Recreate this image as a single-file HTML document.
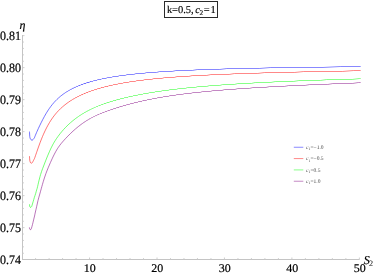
<!DOCTYPE html><html><head><meta charset="utf-8"><style>
html,body{margin:0;padding:0;background:#fff;}
body{width:374px;height:275px;overflow:hidden;}
svg{position:absolute;left:0;top:0;will-change:transform;display:block;}
</style></head><body>
<svg width="374" height="275" viewBox="0 0 374 275" font-family="'Liberation Serif', serif" text-rendering="geometricPrecision">
<g stroke="#c4c4c4" stroke-width="1.0" fill="none">
<path d="M22.00 259.50 H359.60"/>
<path d="M22.50 259.50 V35.00"/>
</g>
<path d="M35.59 259.50 v-1.40 M49.08 259.50 v-1.40 M62.57 259.50 v-1.40 M76.06 259.50 v-1.40 M89.55 259.50 v-2.00 M103.04 259.50 v-1.40 M116.53 259.50 v-1.40 M130.02 259.50 v-1.40 M143.51 259.50 v-1.40 M157.00 259.50 v-2.00 M170.49 259.50 v-1.40 M183.98 259.50 v-1.40 M197.47 259.50 v-1.40 M210.96 259.50 v-1.40 M224.45 259.50 v-2.00 M237.94 259.50 v-1.40 M251.43 259.50 v-1.40 M264.92 259.50 v-1.40 M278.41 259.50 v-1.40 M291.90 259.50 v-2.00 M305.39 259.50 v-1.40 M318.88 259.50 v-1.40 M332.37 259.50 v-1.40 M345.86 259.50 v-1.40 M359.35 259.50 v-2.00 M22.50 253.25 h1.40 M22.50 246.85 h1.40 M22.50 240.45 h1.40 M22.50 234.05 h1.40 M22.50 227.65 h2.00 M22.50 221.25 h1.40 M22.50 214.85 h1.40 M22.50 208.45 h1.40 M22.50 202.05 h1.40 M22.50 195.65 h2.00 M22.50 189.25 h1.40 M22.50 182.85 h1.40 M22.50 176.45 h1.40 M22.50 170.05 h1.40 M22.50 163.65 h2.00 M22.50 157.25 h1.40 M22.50 150.85 h1.40 M22.50 144.45 h1.40 M22.50 138.05 h1.40 M22.50 131.65 h2.00 M22.50 125.25 h1.40 M22.50 118.85 h1.40 M22.50 112.45 h1.40 M22.50 106.05 h1.40 M22.50 99.65 h2.00 M22.50 93.25 h1.40 M22.50 86.85 h1.40 M22.50 80.45 h1.40 M22.50 74.05 h1.40 M22.50 67.65 h2.00 M22.50 61.25 h1.40 M22.50 54.85 h1.40 M22.50 48.45 h1.40 M22.50 42.05 h1.40 M22.50 35.65 h2.00" stroke="#c8c8c8" stroke-width="0.9" fill="none"/>
<path d="M29.50 131.60 C29.52 132.00 29.56 133.18 29.60 134.00 C29.64 134.82 29.62 135.68 29.75 136.50 C29.88 137.32 30.06 138.28 30.40 138.90 C30.74 139.52 31.37 140.08 31.80 140.20 C32.23 140.32 32.57 140.01 33.00 139.60 C33.43 139.19 34.08 138.28 34.40 137.76 C34.72 137.25 34.73 136.92 34.90 136.51 C35.07 136.10 35.23 135.69 35.40 135.29 C35.57 134.89 35.73 134.49 35.90 134.09 C36.07 133.70 36.23 133.30 36.40 132.92 C36.57 132.53 36.82 131.96 36.90 131.76 L38.40 128.42 39.90 125.24 41.40 122.19 42.90 119.27 44.40 116.47 45.90 113.84 46.90 112.18 48.40 109.84 49.40 108.38 50.90 106.31 52.40 104.40 53.90 102.63 55.40 100.99 56.90 99.48 58.40 98.08 60.40 96.35 61.90 95.16 63.90 93.66 64.40 93.38 65.40 92.61 65.90 92.42 66.90 91.62 67.40 91.50 68.40 90.72 68.90 90.50 69.40 90.33 70.25 89.61 70.50 89.50 71.00 89.50 71.25 89.36 72.25 88.50 73.00 88.50 73.25 88.37 74.00 87.68 74.25 87.50 75.25 87.50 75.50 87.29 76.25 86.56 76.50 86.50 77.50 86.50 77.75 86.38 78.50 85.61 78.75 85.50 80.00 85.50 80.25 85.42 81.00 84.60 81.25 84.50 82.75 84.50 83.00 84.44 83.75 83.54 84.00 83.50 85.75 83.50 86.00 83.47 86.75 82.50 89.25 82.50 90.00 81.50" fill="none" stroke="#0000ff" stroke-width="0.55" stroke-linejoin="round"/>
<path d="M90.00 81.50 L92.75 81.50 L93.00 81.28 L93.50 80.62 L93.75 80.50 L96.75 80.50 L97.50 79.63 L97.75 79.50 L101.00 79.50 L101.25 79.40 L102.00 78.60 L102.25 78.50 L106.00 78.50 L106.25 78.34 L107.00 77.63 L107.25 77.50 L111.50 77.50 L111.75 77.41 L112.75 76.58 L113.00 76.50 L118.00 76.50 L119.25 75.59 L119.50 75.50 L125.25 75.50 L125.50 75.40 L126.75 74.62 L127.00 74.50 L133.75 74.50 L134.00 74.47 L135.75 73.55 L136.00 73.50 L144.00 73.50 L144.25 73.47 L146.50 72.50 L156.50 72.50 L156.75 72.47 L159.50 71.50 L172.25 71.50 L175.75 70.53 L176.00 70.50 L192.50 70.49 L197.25 69.50 L219.75 69.50 L220.00 69.49 L226.75 68.50 L259.75 68.50 L270.25 67.50 L323.00 67.50 L340.25 66.50 L360.70 66.50" fill="none" stroke="#0000ff" stroke-width="0.47" stroke-linejoin="round"/>
<path d="M29.50 156.20 C29.52 156.53 29.56 157.55 29.60 158.20 C29.64 158.85 29.63 159.42 29.75 160.10 C29.87 160.78 30.03 161.77 30.30 162.30 C30.57 162.83 31.00 163.28 31.35 163.30 C31.70 163.32 32.06 162.85 32.40 162.40 C32.74 161.95 33.05 161.26 33.40 160.60 C33.75 159.94 34.23 159.02 34.50 158.43 C34.77 157.84 34.83 157.51 35.00 157.04 C35.17 156.57 35.33 156.09 35.50 155.61 C35.67 155.13 35.83 154.65 36.00 154.17 C36.17 153.68 36.33 153.20 36.50 152.71 C36.67 152.23 36.92 151.50 37.00 151.26 L38.50 146.96 40.00 142.84 41.50 138.96 42.50 136.52 43.50 134.20 45.00 130.93 46.50 127.91 48.00 125.11 49.50 122.52 51.00 120.13 52.50 117.93 54.00 115.90 55.50 114.02 57.00 112.28 58.50 110.66 60.50 108.67 62.50 106.85 65.00 104.77 68.00 102.50 68.50 102.19 69.00 101.81 70.00 101.19 70.75 100.60 71.00 100.50 71.25 100.45 72.25 99.65 72.50 99.50 72.75 99.50 73.00 99.39 74.00 98.57 74.25 98.50 74.50 98.50 74.75 98.41 75.75 97.56 76.00 97.50 76.50 97.50 77.50 96.65 77.75 96.50 78.50 96.50 79.50 95.61 79.75 95.50 80.50 95.50 80.75 95.40 81.50 94.70 81.75 94.50 82.75 94.50 83.00 94.41 83.75 93.67 84.00 93.50 85.25 93.50 85.50 93.32 86.25 92.53 86.50 92.50 87.75 92.50 88.00 92.40 88.75 91.56 89.00 91.50" fill="none" stroke="#ff0000" stroke-width="0.55" stroke-linejoin="round"/>
<path d="M89.00 91.50 L90.50 91.50 L90.75 91.41 L91.50 90.51 L93.50 90.50 L93.75 90.37 L94.25 89.72 L94.50 89.50 L96.75 89.50 L97.00 89.30 L97.50 88.56 L97.75 88.50 L100.25 88.50 L101.00 87.50 L103.75 87.50 L104.00 87.46 L104.75 86.50 L108.00 86.49 L108.75 85.61 L109.00 85.50 L112.25 85.50 L112.50 85.39 L113.25 84.58 L113.50 84.50 L117.25 84.49 L118.25 83.52 L122.50 83.50 L122.75 83.37 L123.75 82.50 L128.50 82.50 L128.75 82.38 L129.75 81.60 L130.00 81.50 L135.25 81.50 L135.50 81.38 L136.75 80.52 L137.00 80.50 L143.00 80.49 L144.50 79.59 L144.75 79.50 L151.75 79.50 L153.75 78.50 L162.00 78.50 L162.25 78.43 L164.25 77.54 L164.50 77.50 L174.25 77.50 L177.00 76.50 L188.75 76.50 L189.00 76.46 L192.00 75.55 L192.25 75.50 L206.75 75.50 L210.75 74.53 L211.00 74.50 L229.25 74.49 L234.25 73.52 L234.50 73.50 L257.75 73.50 L264.50 72.50 L294.75 72.50 L303.50 71.50 L342.50 71.50 L353.50 70.51 L360.70 70.50" fill="none" stroke="#ff0000" stroke-width="0.47" stroke-linejoin="round"/>
<path d="M29.50 204.30 C29.52 204.58 29.57 205.55 29.65 206.00 C29.73 206.45 29.82 206.77 30.00 207.00 C30.18 207.23 30.47 207.42 30.70 207.40 C30.93 207.38 31.20 207.17 31.40 206.90 C31.60 206.63 31.62 206.65 31.90 205.80 C32.18 204.95 32.68 203.22 33.10 201.80 C33.52 200.38 33.98 198.65 34.40 197.30 C34.82 195.95 35.23 194.91 35.60 193.70 C35.97 192.49 36.35 190.90 36.60 190.04 C36.85 189.18 36.93 189.15 37.10 188.56 C37.27 187.98 37.43 187.24 37.60 186.54 C37.77 185.83 37.93 185.06 38.10 184.34 C38.27 183.61 38.43 182.88 38.60 182.17 C38.77 181.46 39.02 180.43 39.10 180.09 L40.10 176.24 40.60 174.52 41.60 171.40 42.60 168.61 45.60 160.87 47.60 155.89 49.60 151.22 51.10 147.99 52.60 145.03 53.60 143.21 55.10 140.71 56.60 138.43 58.10 136.31 60.10 133.67 61.60 131.82 63.60 129.52 65.60 127.37 68.10 124.88 70.50 122.69 73.00 120.58 75.25 118.81 77.00 117.50 77.25 117.36 78.25 116.60 78.50 116.50 78.75 116.33 79.75 115.55 80.00 115.50 80.25 115.35 81.25 114.56 81.75 114.43 82.75 113.62 83.00 113.50 83.25 113.50 83.50 113.37 84.50 112.54 85.00 112.50 85.25 112.37 86.25 111.52 86.75 111.50 87.00 111.44 88.00 110.58 88.25 110.50 88.75 110.50 89.00 110.39 90.00 109.50" fill="none" stroke="#00ff00" stroke-width="0.55" stroke-linejoin="round"/>
<path d="M90.00 109.50 L90.75 109.50 L91.00 109.43 L92.00 108.50 L93.00 108.50 L93.25 108.34 L94.00 107.62 L94.25 107.50 L95.25 107.50 L95.50 107.37 L96.25 106.62 L96.50 106.50 L97.75 106.50 L98.00 106.29 L98.75 105.50 L100.25 105.50 L100.50 105.37 L101.25 104.54 L101.50 104.50 L103.00 104.50 L103.25 104.37 L104.00 103.50 L106.00 103.50 L106.25 103.27 L106.75 102.63 L107.00 102.50 L109.00 102.50 L109.25 102.43 L109.75 101.73 L110.00 101.50 L112.50 101.50 L113.00 100.79 L113.25 100.50 L116.00 100.50 L116.75 99.50 L119.50 99.50 L119.75 99.47 L120.50 98.50 L123.50 98.50 L123.75 98.42 L124.50 97.51 L127.75 97.50 L128.00 97.39 L128.75 96.54 L129.00 96.50 L132.25 96.50 L132.50 96.41 L133.25 95.62 L133.50 95.50 L137.25 95.50 L138.25 94.52 L142.25 94.50 L142.50 94.48 L143.50 93.56 L143.75 93.50 L148.00 93.50 L148.25 93.38 L149.25 92.54 L149.50 92.50 L154.25 92.49 L155.50 91.52 L160.75 91.50 L161.00 91.45 L162.25 90.56 L162.50 90.50 L168.25 90.50 L169.75 89.56 L170.00 89.50 L176.25 89.50 L176.50 89.45 L178.00 88.59 L178.25 88.50 L185.50 88.48 L187.25 87.58 L187.50 87.50 L195.50 87.50 L195.75 87.42 L197.75 86.50 L206.75 86.50 L207.00 86.48 L209.25 85.56 L209.50 85.50 L219.75 85.50 L220.00 85.44 L222.50 84.54 L222.75 84.50 L234.50 84.50 L237.75 83.50 L251.25 83.50 L251.50 83.47 L255.00 82.52 L255.25 82.50 L271.00 82.49 L275.25 81.50 L293.75 81.50 L298.75 80.52 L299.00 80.50 L320.50 80.50 L320.75 80.48 L326.50 79.51 L326.75 79.50 L352.25 79.50 L359.25 78.51 L360.70 78.50" fill="none" stroke="#00ff00" stroke-width="0.47" stroke-linejoin="round"/>
<path d="M29.40 227.40 C29.43 227.63 29.50 228.45 29.60 228.80 C29.70 229.15 29.85 229.36 30.00 229.50 C30.15 229.64 30.33 229.68 30.50 229.65 C30.67 229.62 30.83 229.56 31.00 229.30 C31.17 229.04 31.25 228.90 31.50 228.10 C31.75 227.30 32.15 225.87 32.50 224.50 C32.85 223.13 33.26 221.32 33.60 219.90 C33.94 218.48 34.25 217.32 34.55 216.00 C34.85 214.68 35.04 213.60 35.40 212.00 C35.76 210.40 36.27 208.32 36.70 206.40 C37.13 204.48 37.48 202.57 38.00 200.50 C38.52 198.43 39.32 195.75 39.80 194.00 C40.28 192.25 40.63 190.99 40.90 190.02 C41.17 189.06 41.23 188.80 41.40 188.20 C41.57 187.59 41.73 186.99 41.90 186.39 C42.07 185.79 42.23 185.20 42.40 184.61 C42.57 184.03 42.73 183.45 42.90 182.88 C43.07 182.31 43.32 181.47 43.40 181.19 L44.40 177.98 45.90 173.62 46.90 170.97 48.40 167.25 50.40 162.60 52.40 158.18 53.40 156.09 54.40 154.10 55.90 151.31 57.40 148.78 58.40 147.25 59.90 145.16 61.40 143.26 63.40 140.93 65.40 138.73 67.90 136.10 70.25 133.74 73.00 131.14 75.50 128.92 78.25 126.63 81.00 124.51 82.25 123.58 82.50 123.46 83.75 122.50 84.00 122.43 85.00 121.66 85.25 121.50 85.50 121.47 86.75 120.50 87.00 120.50 87.25 120.36 88.25 119.55 88.50 119.50 88.75 119.50 90.00 118.50" fill="none" stroke="#800080" stroke-width="0.55" stroke-linejoin="round"/>
<path d="M90.00 118.50 L90.50 118.50 L90.75 118.37 L91.75 117.50 L92.50 117.50 L93.50 116.63 L93.75 116.50 L94.50 116.50 L94.75 116.34 L95.50 115.65 L95.75 115.50 L96.75 115.50 L97.75 114.56 L98.00 114.50 L99.00 114.50 L99.25 114.37 L100.00 113.61 L100.25 113.50 L101.50 113.50 L101.75 113.34 L102.50 112.54 L102.75 112.50 L104.00 112.50 L104.25 112.46 L105.00 111.62 L105.25 111.50 L106.75 111.50 L107.00 111.44 L107.75 110.56 L108.00 110.50 L109.75 110.50 L110.00 110.25 L110.50 109.64 L110.75 109.50 L112.75 109.50 L113.50 108.54 L113.75 108.50 L115.75 108.50 L116.00 108.28 L116.50 107.60 L116.75 107.50 L119.00 107.50 L119.25 107.23 L119.75 106.50 L122.25 106.50 L122.50 106.37 L123.00 105.64 L123.25 105.50 L125.75 105.50 L126.00 105.37 L126.50 104.67 L126.75 104.50 L129.50 104.50 L129.75 104.27 L130.25 103.61 L130.50 103.50 L133.25 103.50 L133.50 103.42 L134.25 102.50 L137.50 102.50 L138.25 101.63 L138.50 101.50 L141.75 101.50 L142.00 101.33 L142.75 100.50 L146.25 100.50 L146.50 100.44 L147.25 99.66 L147.50 99.50 L151.25 99.50 L151.50 99.36 L152.25 98.63 L152.50 98.50 L156.50 98.50 L156.75 98.39 L157.75 97.50 L162.25 97.50 L162.50 97.35 L163.50 96.51 L168.50 96.50 L169.75 95.55 L170.00 95.50 L175.25 95.50 L175.50 95.36 L176.75 94.50 L182.75 94.50 L184.25 93.58 L184.50 93.50 L191.00 93.50 L191.25 93.39 L192.75 92.54 L193.00 92.50 L200.25 92.50 L202.25 91.50 L210.50 91.50 L212.75 90.50 L222.00 90.50 L224.50 89.51 L235.00 89.50 L237.75 88.51 L249.50 88.50 L249.75 88.45 L252.75 87.50 L266.00 87.50 L269.50 86.51 L284.50 86.50 L288.50 85.50 L305.00 85.50 L305.25 85.47 L309.50 84.50 L327.75 84.50 L328.00 84.49 L332.75 83.50 L352.75 83.50 L353.00 83.48 L358.00 82.52 L358.25 82.50 L360.70 82.50" fill="none" stroke="#800080" stroke-width="0.47" stroke-linejoin="round"/>
<path d="M293.8 147.25 H303.3" stroke="#0000ff" stroke-width="0.47" fill="none"/>
<path d="M293.8 158.58 H303.3" stroke="#ff0000" stroke-width="0.47" fill="none"/>
<path d="M293.8 169.91 H303.3" stroke="#00ff00" stroke-width="0.47" fill="none"/>
<path d="M293.8 181.24 H303.3" stroke="#800080" stroke-width="0.47" fill="none"/>
<rect x="164.5" y="1.5" width="53" height="16" fill="#fff" stroke="#2a2a2a" stroke-width="1"/>
<text transform="translate(21.00 263.70) scale(1.0 1.07)" font-size="12" text-anchor="end" fill="#000" stroke="#000" stroke-width="0.2">0.74</text>
<text transform="translate(21.00 231.70) scale(1.0 1.07)" font-size="12" text-anchor="end" fill="#000" stroke="#000" stroke-width="0.2">0.75</text>
<text transform="translate(21.00 199.70) scale(1.0 1.07)" font-size="12" text-anchor="end" fill="#000" stroke="#000" stroke-width="0.2">0.76</text>
<text transform="translate(21.00 167.70) scale(1.0 1.07)" font-size="12" text-anchor="end" fill="#000" stroke="#000" stroke-width="0.2">0.77</text>
<text transform="translate(21.00 135.70) scale(1.0 1.07)" font-size="12" text-anchor="end" fill="#000" stroke="#000" stroke-width="0.2">0.78</text>
<text transform="translate(21.00 103.70) scale(1.0 1.07)" font-size="12" text-anchor="end" fill="#000" stroke="#000" stroke-width="0.2">0.79</text>
<text transform="translate(21.00 71.70) scale(1.0 1.07)" font-size="12" text-anchor="end" fill="#000" stroke="#000" stroke-width="0.2">0.80</text>
<text transform="translate(21.00 39.70) scale(1.0 1.07)" font-size="12" text-anchor="end" fill="#000" stroke="#000" stroke-width="0.2">0.81</text>
<text transform="translate(89.85 271.85) scale(1.0 0.98)" font-size="12" text-anchor="middle" fill="#000" stroke="#000" stroke-width="0.2">10</text>
<text transform="translate(157.30 271.85) scale(1.0 0.98)" font-size="12" text-anchor="middle" fill="#000" stroke="#000" stroke-width="0.2">20</text>
<text transform="translate(224.75 271.85) scale(1.0 0.98)" font-size="12" text-anchor="middle" fill="#000" stroke="#000" stroke-width="0.2">30</text>
<text transform="translate(292.20 271.85) scale(1.0 0.98)" font-size="12" text-anchor="middle" fill="#000" stroke="#000" stroke-width="0.2">40</text>
<text transform="translate(359.65 271.85) scale(1.0 0.98)" font-size="12" text-anchor="middle" fill="#000" stroke="#000" stroke-width="0.2">50</text>
<text transform="translate(19.60 29.40) scale(1 1)" font-size="12" text-anchor="start" fill="#000" stroke="#000" stroke-width="0.2" font-style="italic">η</text>
<text transform="translate(363.80 263.90) scale(1 1)" font-size="12" text-anchor="start" fill="#000" stroke="#000" stroke-width="0.15" font-style="italic">S</text>
<text transform="translate(369.00 265.70) scale(1 1)" font-size="8.2" text-anchor="start" fill="#000">2</text>
<text transform="translate(166.90 13.30) scale(1 1)" font-size="10.45" text-anchor="start" fill="#000" stroke="#000" stroke-width="0.15">k=0.5, <tspan font-style="italic" dx="-0.9">c</tspan><tspan font-size="7.31" dx="-0.5" dy="1.99">2</tspan><tspan dx="0.5" dy="-1.99">=</tspan><tspan dx="0.9">1</tspan></text>
<text transform="translate(306.10 149.15) scale(1 1)" font-size="5.5" text-anchor="start" fill="#4a4a4a"><tspan font-style="italic">c</tspan><tspan font-size="3.85" dy="1.21">1</tspan><tspan dy="-1.21">=−1.0</tspan></text>
<text transform="translate(306.10 160.48) scale(1 1)" font-size="5.5" text-anchor="start" fill="#4a4a4a"><tspan font-style="italic">c</tspan><tspan font-size="3.85" dy="1.21">1</tspan><tspan dy="-1.21">=−0.5</tspan></text>
<text transform="translate(306.10 171.81) scale(1 1)" font-size="5.5" text-anchor="start" fill="#4a4a4a"><tspan font-style="italic">c</tspan><tspan font-size="3.85" dy="1.21">1</tspan><tspan dy="-1.21">=0.5</tspan></text>
<text transform="translate(306.10 183.14) scale(1 1)" font-size="5.5" text-anchor="start" fill="#4a4a4a"><tspan font-style="italic">c</tspan><tspan font-size="3.85" dy="1.21">1</tspan><tspan dy="-1.21">=1.0</tspan></text>
</svg>
</body></html>
